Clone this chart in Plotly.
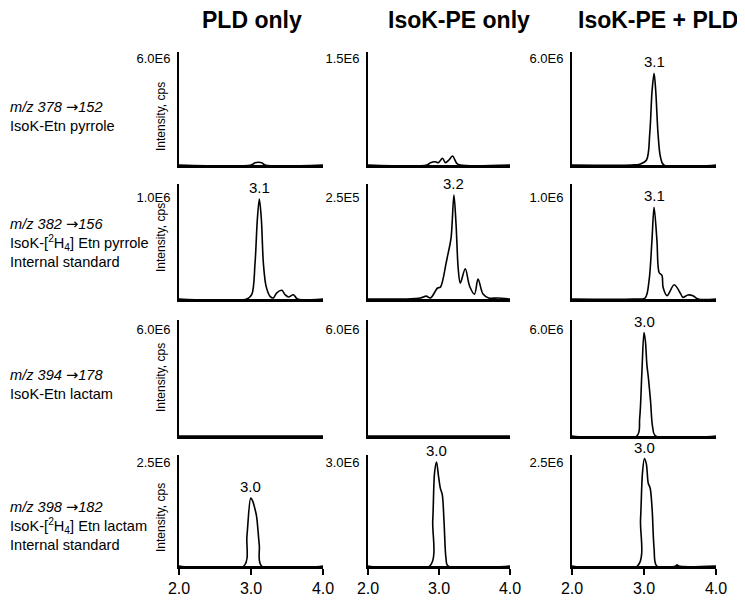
import plotly.graph_objects as go

# ---------------- data ----------------
col_titles = ["PLD only", "IsoK-PE only", "IsoK-PE + PLD"]
ARROW = "<span style='font-family:DejaVu Sans'>→</span>"
row_labels = [
    f"<i>m/z 378 {ARROW}152</i><br>IsoK-Etn pyrrole",
    f"<i>m/z 382 {ARROW}156</i><br>IsoK-[<sup>2</sup>H<sub>4</sub>] Etn pyrrole<br>Internal standard",
    f"<i>m/z 394 {ARROW}178</i><br>IsoK-Etn lactam",
    f"<i>m/z 398 {ARROW}182</i><br>IsoK-[<sup>2</sup>H<sub>4</sub>] Etn lactam<br>Internal standard",
]
x_ticks = [2.0, 3.0, 4.0]
x_tick_text = ["2.0", "3.0", "4.0"]

# full-scale labels per row (cols: PLD only, IsoK-PE only, IsoK-PE + PLD)
full_scale = [
    [6.0e6, 1.5e6, 6.0e6],
    [1.0e6, 2.5e5, 1.0e6],
    [6.0e6, 6.0e6, 6.0e6],
    [2.5e6, 3.0e6, 2.5e6],
]
full_scale_text = [
    ["6.0E6", "1.5E6", "6.0E6"],
    ["1.0E6", "2.5E5", "1.0E6"],
    ["6.0E6", "6.0E6", "6.0E6"],
    ["2.5E6", "3.0E6", "2.5E6"],
]
peak_labels = [
    [None, None, "3.1"],
    ["3.1", "3.2", "3.1"],
    [None, None, "3.0"],
    ["3.0", "3.0", "3.0"],
]

# row 1: m/z 378 -> 152
pld_pyr_t = [2.0, 3.0, 3.056, 3.10, 3.15, 3.195, 4.0]
pld_pyr_i = [0, 0, 1.3e5, 1.5e5, 1.3e5, 0, 0]
pe_pyr_t = [2.0, 2.83, 2.88, 2.95, 2.99, 3.05, 3.09, 3.14, 3.19, 3.25, 3.30, 4.0]
pe_pyr_i = [0, 0, 3.3e4, 4.6e4, 3.3e4, 9.4e4, 3.3e4, 7.0e4, 1.27e5, 2.4e4, 0, 0]
pepld_pyr_t = [2.0, 2.83, 2.94, 3.035, 3.08, 3.112, 3.14, 3.163, 3.195, 3.228, 3.274, 4.0]
pepld_pyr_i = [0, 0, 4e4, 2.8e5, 1.77e6, 4.15e6, 5.14e6, 4.15e6, 1.75e6, 4.6e5, 0, 0]

# row 2: m/z 382 -> 156 (internal standard)
pld_pyr_is_t = [2.0, 2.94, 3.01, 3.056, 3.088, 3.116, 3.144, 3.172, 3.21, 3.265, 3.31,
                3.358, 3.428, 3.474, 3.52, 3.59, 3.646, 4.0]
pld_pyr_is_i = [0, 0, 4.2e4, 3.5e5, 7.8e5, 9.8e5, 7.8e5, 3.5e5, 1.24e5, 2.6e4, 1.0e4,
                6.0e4, 8.5e4, 4.2e4, 2.0e4, 4.2e4, 0, 0]
pe_pyr_is_t = [2.0, 2.52, 2.74, 2.82, 2.88, 2.98, 3.02, 3.10, 3.12, 3.17, 3.21, 3.24,
               3.27, 3.30, 3.37, 3.43, 3.50, 3.55, 3.62, 3.70, 3.84, 3.98, 4.0]
pe_pyr_is_i = [0, 0, 2.5e3, 7e3, 2.5e3, 2.7e4, 2.9e4, 8.8e4, 1.05e5, 1.5e5, 2.55e5, 1.84e5,
               7.6e4, 3.9e4, 7.4e4, 3.2e4, 1.2e4, 4.9e4, 1.2e4, 2.5e3, 2.5e3, 0, 0]
pepld_pyr_is_t = [2.0, 2.85, 3.015, 3.07, 3.11, 3.14, 3.18, 3.21, 3.25, 3.265, 3.32,
                  3.42, 3.51, 3.54, 3.61, 3.68, 3.75, 4.0]
pepld_pyr_is_i = [0, 0, 1.0e4, 1.8e5, 5.7e5, 9.0e5, 5.7e5, 2.6e5, 2.3e5, 1.15e5, 3.3e4,
                  1.4e5, 5.0e4, 1.6e4, 4.0e4, 3.3e4, 0, 0]

# row 3: m/z 394 -> 178
pld_lac_t = [2.0, 4.0]
pld_lac_i = [0, 0]
pe_lac_t = [2.0, 4.0]
pe_lac_i = [0, 0]
pepld_lac_t = [2.0, 2.90, 2.94, 2.97, 3.0, 3.02, 3.04, 3.06, 3.09, 3.12, 3.16, 4.0]
pepld_lac_i = [0, 0, 1.0e6, 3.5e6, 5.8e6, 5.3e6, 4.0e6, 3.3e6, 2.0e6, 5.0e5, 0, 0]

# row 4: m/z 398 -> 182 (internal standard)
pld_lac_is_t = [2.0, 2.90, 2.944, 2.997, 3.024, 3.051, 3.077, 3.115, 3.147, 4.0]
pld_lac_is_i = [0, 0, 7.3e5, 1.635e6, 1.56e6, 1.40e6, 1.20e6, 5.0e5, 0, 0]
pe_lac_is_t = [2.0, 2.869, 2.912, 2.938, 2.965, 2.992, 3.019, 3.046, 3.072, 3.099, 3.126, 4.0]
pe_lac_is_i = [0, 0, 1.32e6, 2.70e6, 3.0e6, 2.61e6, 2.24e6, 2.06e6, 1.23e6, 2.1e5, 0, 0]
pepld_lac_is_t = [2.0, 2.909, 2.952, 2.978, 3.005, 3.032, 3.059, 3.086, 3.113, 3.14, 3.177,
                  3.44, 3.46, 3.48, 4.0]
pepld_lac_is_i = [0, 0, 1.12e6, 2.22e6, 2.58e6, 2.46e6, 1.99e6, 1.87e6, 1.36e6, 4.2e5, 0,
                  0, 3.0e4, 0, 0]

series = [
    [(pld_pyr_t, pld_pyr_i), (pe_pyr_t, pe_pyr_i), (pepld_pyr_t, pepld_pyr_i)],
    [(pld_pyr_is_t, pld_pyr_is_i), (pe_pyr_is_t, pe_pyr_is_i), (pepld_pyr_is_t, pepld_pyr_is_i)],
    [(pld_lac_t, pld_lac_i), (pe_lac_t, pe_lac_i), (pepld_lac_t, pepld_lac_i)],
    [(pld_lac_is_t, pld_lac_is_i), (pe_lac_is_t, pe_lac_is_i), (pepld_lac_is_t, pepld_lac_is_i)],
]

# ---------------- layout geometry (pixels in the final screenshot) ----------------
W, H = 745, 602
PAGE_OFF = 8  # the page body margin shifts the figure by this many pixels
FONT = "Liberation Sans, Arial, Helvetica, sans-serif"
col_px = [(179, 323), (368, 510), (572, 716)]
row_px = [(52, 165), (184, 299), (320, 436), (455, 566)]
label_offset_px = [6, 13, 9, 7]
col_title_x = [252, 459, 658]
col_title_y = 20
row_label_x = 8
row_label_y = [116, 242, 384, 525]
ytitle_y = [117, 238, 378, 518]


def fx(px):
    return (px - PAGE_OFF) / W


def fy(py):
    return 1 - (py - PAGE_OFF) / H


fig = go.Figure()
layout = dict(
    width=W, height=H, margin=dict(l=0, r=0, t=0, b=0, pad=0, autoexpand=False),
    paper_bgcolor="white", plot_bgcolor="white", showlegend=False,
    font=dict(family=FONT, color="black"),
    template="none",
)
annotations = []

n = 0
for r in range(4):
    top, bot = row_px[r]
    hpx = bot - top
    for c in range(3):
        n += 1
        xa = "xaxis" if n == 1 else f"xaxis{n}"
        ya = "yaxis" if n == 1 else f"yaxis{n}"
        xr = "x" if n == 1 else f"x{n}"
        yr = "y" if n == 1 else f"y{n}"
        t, inten = series[r][c]
        fig.add_trace(go.Scatter(
            x=t, y=inten, mode="lines", xaxis=xr, yaxis=yr,
            line=dict(color="black", width=1.6, shape="spline", smoothing=0.9),
            hoverinfo="skip",
        ))
        fs = full_scale[r][c]
        ymax = fs * hpx / (hpx - label_offset_px[r])
        x0, x1 = col_px[c]
        bottom_row = (r == 3)
        layout[xa] = dict(
            domain=[fx(x0), fx(x1)], anchor=yr, range=[2.0, 4.0], automargin=False,
            showgrid=False, zeroline=False, showline=True, linecolor="black",
            linewidth=3 if not bottom_row else 2.5,
            ticks="outside" if bottom_row else "", ticklen=6, tickwidth=1.5,
            tickcolor="black",
            tickvals=x_ticks, ticktext=x_tick_text, showticklabels=bottom_row,
            tickfont=dict(size=16, family=FONT, color="black"),
        )
        layout[ya] = dict(
            domain=[fy(bot), fy(top)], anchor=xr, range=[0, ymax], automargin=False,
            showgrid=False, zeroline=False, showline=True, linecolor="black",
            linewidth=2, ticks="", tickvals=[fs], ticktext=[full_scale_text[r][c]],
            tickfont=dict(size=13, family=FONT, color="black"),
            ticklabelstandoff=4,
        )
        lab = peak_labels[r][c]
        if lab:
            k = max(range(len(inten)), key=lambda j: inten[j])
            annotations.append(dict(
                x=t[k], y=inten[k], xref=xr, yref=yr, text=lab, showarrow=False,
                xanchor="center", yanchor="bottom", yshift=1,
                font=dict(size=15, family=FONT, color="black"),
            ))
    # y-axis title for the first column
    annotations.append(dict(
        x=fx(161), y=fy(ytitle_y[r]), xref="paper", yref="paper",
        text="Intensity, cps", textangle=-90, showarrow=False,
        xanchor="center", yanchor="middle",
        font=dict(size=12, family=FONT, color="black"),
    ))
    # row label
    annotations.append(dict(
        x=fx(row_label_x), y=fy(row_label_y[r]), xref="paper", yref="paper",
        text=row_labels[r], showarrow=False, xanchor="left", yanchor="middle",
        align="left", font=dict(size=14.6, family=FONT, color="black"),
    ))

for c in range(3):
    annotations.append(dict(
        x=fx(col_title_x[c]), y=fy(col_title_y), xref="paper", yref="paper",
        text=f"<b>{col_titles[c]}</b>", showarrow=False,
        xanchor="center", yanchor="middle",
        font=dict(size=23, family=FONT, color="black"),
    ))

layout["annotations"] = annotations
fig.update_layout(**layout)
fig.write_html("out.html")
